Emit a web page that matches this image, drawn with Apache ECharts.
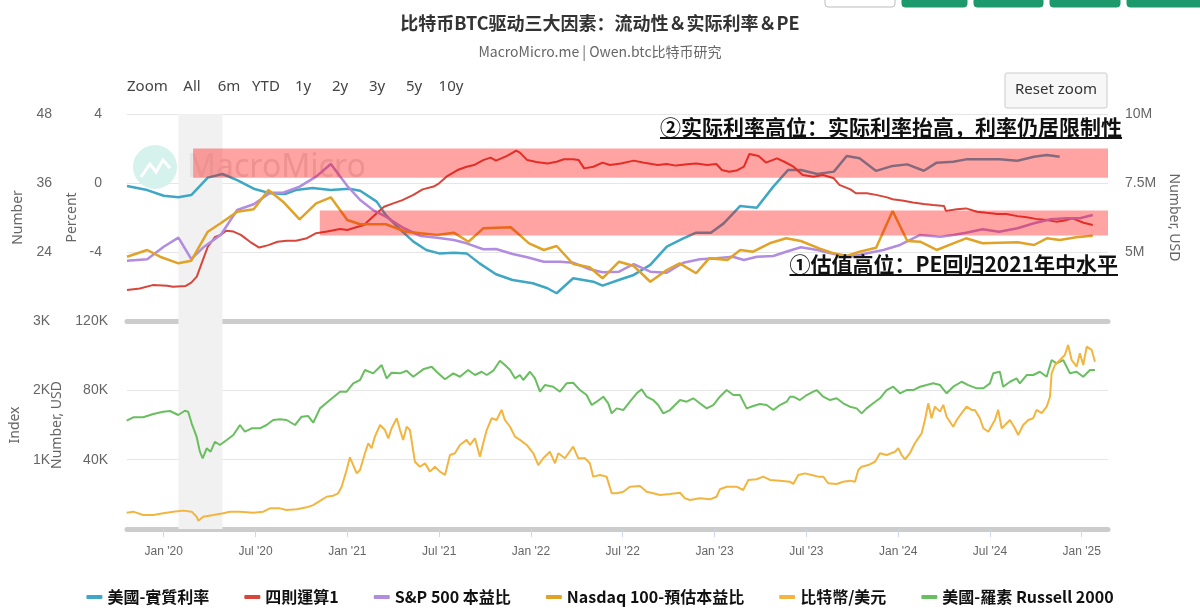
<!DOCTYPE html>
<html>
<head>
<meta charset="utf-8">
<title>比特币BTC驱动三大因素</title>
<script src="https://cdn.jsdelivr.net/npm/echarts@6/dist/echarts.min.js"></script>
<style>
html,body{margin:0;padding:0;background:#fff}
#main{width:1200px;height:616px}
</style>
</head>
<body>
<div id="main"></div>
<script>
// 时间轴用小数年 (2020.5 ≈ 2020年7月初)
// 美國-實質利率 (Percent)
var realRateT = [2019.80,2019.91,2020.00,2020.08,2020.15,2020.24,2020.32,2020.40,2020.49,2020.58,2020.66,2020.72,2020.81,2020.91,2021.01,2021.07,2021.16,2021.21,2021.29,2021.36,2021.43,2021.50,2021.58,2021.65,2021.72,2021.81,2021.90,2022.01,2022.09,2022.14,2022.23,2022.34,2022.39,2022.49,
    2022.56,2022.65,2022.74,2022.83,2022.90,2022.98,2023.05,2023.14,2023.23,2023.32,2023.40,2023.47,2023.56,2023.65,2023.72,2023.79,2023.88,2023.97,2024.05,2024.14,2024.21,2024.30,2024.37,2024.46,2024.55,2024.65,2024.74,2024.81,2024.88]
var realRateV = [-0.17,-0.41,-0.74,-0.83,-0.70,0.31,0.52,0.17,-0.33,-0.60,-0.64,-0.41,-0.29,-0.41,-0.33,-0.45,-1.08,-1.86,-2.72,-3.40,-3.88,-4.08,-4.04,-4.08,-4.66,-5.29,-5.62,-5.81,-6.10,-6.39,-5.52,-5.72,-5.95,-5.58,
    -5.33,-4.75,-3.69,-3.21,-2.88,-2.88,-2.34,-1.33,-1.43,-0.21,0.75,0.75,0.52,0.66,1.57,1.43,0.70,0.99,1.08,0.71,1.18,1.23,1.37,1.37,1.37,1.29,1.52,1.62,1.52]

// 四則運算1 (Number, USD, 单位 M)
var liqT = [2019.80,2019.87,2019.94,2020.02,2020.05,2020.12,2020.15,2020.18,2020.22,2020.24,2020.28,2020.31,2020.34,2020.38,2020.42,2020.47,2020.52,2020.57,2020.62,2020.67,2020.72,2020.78,2020.83,2020.89,2020.96,2021.00,2021.03,2021.09,2021.12,2021.16,2021.20,2021.25,2021.30,2021.36,2021.41,2021.47,2021.50,2021.54,2021.60,2021.65,2021.69,2021.74,2021.78,2021.81,2021.87,2021.92,2021.94,2021.98,2022.03,2022.09,2022.14,2022.18,2022.23,2022.26,2022.29,2022.34,2022.39,2022.43,2022.49,
    2022.56,2022.61,2022.69,2022.74,2022.79,2022.85,2022.90,2022.96,2023.01,2023.04,2023.08,2023.12,2023.16,2023.19,2023.24,2023.28,2023.34,2023.38,2023.43,2023.48,2023.54,2023.59,2023.65,2023.68,2023.74,2023.77,2023.83,2023.88,2023.94,2023.97,2024.03,2024.08,2024.14,2024.19,2024.25,2024.26,2024.32,2024.37,2024.43,2024.48,2024.54,2024.59,2024.65,2024.70,2024.75,2024.81,2024.86,2024.90,2024.95,2025.01,2025.06]
var liqV = [3.62,3.68,3.80,3.78,3.74,3.77,3.89,4.11,4.83,5.19,5.55,5.62,5.77,5.74,5.62,5.37,5.16,5.25,5.37,5.41,5.41,5.50,5.68,5.74,5.83,5.80,5.86,5.98,6.16,6.40,6.64,6.76,6.88,7.07,7.27,7.37,7.49,7.73,7.97,8.09,8.15,8.33,8.42,8.31,8.48,8.67,8.60,8.33,8.26,8.21,8.27,8.36,8.36,8.33,8.03,8.09,8.24,8.15,8.21,
    8.31,8.24,8.15,8.19,8.13,8.18,8.21,8.15,8.19,7.97,7.91,7.95,8.09,8.55,8.48,8.24,8.39,8.27,8.09,7.79,7.73,7.79,7.67,7.43,7.27,7.13,7.13,7.07,6.98,6.91,6.86,6.79,6.74,6.70,6.67,6.49,6.55,6.58,6.46,6.42,6.38,6.38,6.30,6.26,6.20,6.16,6.10,6.13,6.22,6.06,5.98]

// S&P 500 本益比 (Number)
var spT = [2019.80,2019.91,2020.00,2020.08,2020.15,2020.22,2020.31,2020.40,2020.49,2020.58,2020.65,2020.74,2020.83,2020.91,2021.00,2021.07,2021.14,2021.21,2021.30,2021.40,2021.49,2021.58,2021.65,2021.74,2021.81,2021.90,2021.98,2022.07,2022.16,2022.23,2022.32,2022.39,2022.48,
    2022.56,2022.65,2022.74,2022.83,2022.92,2023.01,2023.10,2023.16,2023.23,2023.32,2023.39,2023.47,2023.56,2023.65,2023.74,2023.83,2023.92,2024.01,2024.12,2024.23,2024.30,2024.37,2024.46,2024.55,2024.65,2024.74,2024.83,2024.92,2024.99,2025.06]
var spV = [22.49,22.73,24.92,26.49,22.78,24.92,26.96,31.30,32.30,34.31,34.31,35.36,37.10,39.30,35.48,33.04,31.30,30.14,28.30,26.78,26.49,26.09,25.51,24.47,24.52,23.65,23.08,22.31,22.31,22.14,20.99,20.47,20.57,
    21.91,20.57,20.40,22.14,22.73,22.90,23.18,22.61,23.18,23.30,24.05,24.82,24.35,23.65,23.18,23.77,24.35,25.22,26.96,26.66,26.96,27.36,27.95,27.53,28.12,28.99,29.69,29.86,29.86,30.43]

// Nasdaq 100-預估本益比 (Number)
var ndxT = [2019.80,2019.91,2019.98,2020.08,2020.15,2020.24,2020.31,2020.40,2020.49,2020.57,2020.65,2020.74,2020.83,2020.91,2021.00,2021.07,2021.12,2021.21,2021.32,2021.40,2021.49,2021.58,2021.66,2021.74,2021.89,2021.99,2022.07,2022.14,2022.23,2022.32,2022.39,2022.48,
    2022.56,2022.65,2022.74,2022.81,2022.90,2022.97,2023.07,2023.14,2023.21,2023.30,2023.39,2023.47,2023.57,2023.65,2023.72,2023.79,2023.88,2023.97,2024.05,2024.12,2024.21,2024.30,2024.37,2024.46,2024.55,2024.65,2024.74,2024.81,2024.88,2024.97,2025.06]
var ndxV = [23.18,24.35,23.18,22.03,22.49,27.53,28.99,31.01,31.43,34.78,32.75,29.69,32.47,33.51,29.57,28.82,28.82,28.82,27.53,27.25,26.96,27.36,25.79,28.12,28.30,25.51,24.35,25.04,21.91,21.34,19.43,22.31,
    21.57,18.83,20.87,22.03,20.30,22.90,22.61,24.35,24.05,25.51,26.38,25.91,24.64,23.77,23.30,24.05,24.75,31.13,25.91,25.79,24.35,25.51,26.38,25.51,25.62,25.69,25.22,26.38,26.09,26.56,26.83]

// 比特幣/美元 (单位 K)
var btcT = [2019.798,2019.834,2019.888,2019.943,2019.997,2020.052,2020.106,2020.152,2020.179,2020.188,2020.215,2020.270,2020.324,2020.361,2020.415,2020.487,2020.542,2020.578,2020.633,2020.669,2020.724,2020.778,2020.814,2020.851,2020.887,2020.923,2020.950,2020.969,2020.996,2021.014,2021.032,2021.051,2021.069,2021.096,2021.114,2021.132,2021.150,2021.178,2021.205,2021.223,2021.241,2021.269,2021.287,2021.304,2021.323,2021.341,2021.368,2021.395,2021.423,2021.450,2021.477,2021.504,2021.532,2021.559,2021.586,2021.613,
    2021.650,2021.668,2021.695,2021.722,2021.740,2021.759,2021.786,2021.813,2021.840,2021.858,2021.886,2021.913,2021.940,2021.977,2022.013,2022.040,2022.067,2022.103,2022.131,2022.149,2022.185,2022.230,2022.258,2022.294,2022.321,2022.339,2022.376,2022.412,2022.440,2022.467,2022.503,2022.539,2022.594,2022.630,2022.666,2022.703,2022.757,2022.812,2022.839,2022.866,2022.920,2022.975,2023.011,2023.029,2023.066,2023.120,2023.156,2023.184,2023.229,2023.265,2023.302,2023.356,2023.411,
    2023.429,2023.456,2023.492,2023.529,2023.565,2023.592,2023.619,2023.665,2023.701,2023.737,2023.765,2023.783,2023.801,2023.837,2023.874,2023.901,2023.937,2023.983,2024.001,2024.019,2024.037,2024.064,2024.091,2024.109,2024.128,2024.146,2024.164,2024.182,2024.200,2024.228,2024.246,2024.264,2024.300,2024.319,2024.346,2024.373,2024.400,2024.418,2024.445,2024.464,2024.491,2024.527,2024.545,2024.564,2024.582,2024.609,2024.636,2024.654,2024.681,2024.709,2024.736,2024.754,2024.782,2024.809,2024.827,2024.836,2024.854,2024.881,2024.908,2024.926,2024.945,2024.972,2024.990,2025.008,2025.027,2025.054,2025.072]
var btcV = [9.4,10.0,8.1,8.1,9.1,10.0,10.6,10.0,7.1,4.8,7.1,8.1,9.1,10.0,10.0,9.4,10.0,11.9,11.9,11.0,11.4,12.5,13.8,16.2,18.6,19.2,20.6,24.4,34.0,41.4,36.9,32.1,34.0,43.7,49.5,46.6,53.3,60.0,57.1,52.3,58.1,63.9,57.1,51.4,59.0,57.1,38.8,35.9,37.9,33.1,35.9,33.1,31.2,42.7,43.7,48.5,
    51.4,48.5,52.3,41.7,49.5,57.1,63.9,62.9,68.7,62.9,59.0,53.3,51.4,48.5,43.7,36.9,40.8,44.6,37.9,43.7,40.8,47.5,40.8,40.8,37.9,30.2,31.2,30.2,20.6,20.6,21.5,24.4,24.8,21.5,20.6,19.6,20.2,20.9,17.7,16.7,17.7,17.1,18.6,22.9,24.4,24.4,22.5,28.3,28.7,30.2,28.3,27.9,27.3,
    26.0,31.2,32.1,31.2,30.2,30.2,26.4,26.0,27.3,27.9,27.3,34.0,35.9,36.9,38.8,43.7,42.7,44.6,46.6,42.7,40.2,43.7,49.5,52.3,55.2,62.9,72.5,63.9,70.6,67.7,71.6,64.8,59.0,62.9,66.8,70.6,68.7,68.7,63.9,58.1,56.1,62.9,68.7,58.1,60.0,62.9,58.1,54.2,60.0,62.9,63.9,68.7,66.8,70.6,76.3,89.8,94.6,97.5,100.4,106.2,97.5,93.7,101.4,94.6,105.2,103.3,96.5]

// 美國-羅素 Russell 2000 (Index)
var rutT = [2019.798,2019.834,2019.888,2019.943,2019.997,2020.034,2020.079,2020.115,2020.133,2020.152,2020.179,2020.197,2020.212,2020.234,2020.255,2020.279,2020.306,2020.343,2020.379,2020.415,2020.442,2020.479,2020.524,2020.560,2020.596,2020.633,2020.669,2020.715,2020.751,2020.787,2020.814,2020.851,2020.905,2020.960,2020.996,2021.032,2021.069,2021.096,2021.141,2021.187,2021.214,2021.241,2021.287,2021.323,2021.359,2021.413,2021.459,2021.486,2021.532,2021.577,2021.613,
    2021.658,2021.695,2021.731,2021.759,2021.795,2021.831,2021.858,2021.886,2021.913,2021.940,2021.958,2021.995,2022.022,2022.049,2022.076,2022.121,2022.158,2022.194,2022.230,2022.267,2022.303,2022.331,2022.358,2022.394,2022.421,2022.440,2022.467,2022.503,2022.539,2022.576,2022.603,2022.630,2022.666,2022.693,2022.721,2022.757,2022.812,2022.848,2022.884,2022.920,2022.957,2022.993,2023.029,2023.066,2023.102,2023.138,2023.175,2023.211,2023.247,2023.284,2023.320,2023.356,2023.393,2023.411,
    2023.429,2023.465,2023.502,2023.538,2023.556,2023.592,2023.629,2023.665,2023.701,2023.737,2023.774,2023.801,2023.828,2023.864,2023.901,2023.937,2023.973,2024.010,2024.046,2024.082,2024.119,2024.155,2024.191,2024.228,2024.264,2024.300,2024.346,2024.382,2024.428,2024.464,2024.500,2024.518,2024.554,2024.572,2024.609,2024.645,2024.663,2024.700,2024.736,2024.772,2024.809,2024.836,2024.863,2024.899,2024.936,2024.972,2025.008,2025.045,2025.072]
var rutV = [1562,1611,1611,1658,1691,1702,1644,1706,1691,1524,1331,1115,1019,1164,1115,1259,1211,1283,1355,1500,1403,1452,1452,1500,1572,1582,1572,1500,1619,1629,1533,1740,1860,1980,1980,2101,2149,2293,2245,2365,2173,2254,2245,2283,2196,2303,2340,2268,2159,2245,2196,
    2293,2221,2268,2221,2283,2427,2365,2293,2173,2221,2149,2268,2173,1980,2076,2052,1980,2101,2110,2004,1932,1788,1836,1908,1813,1668,1740,1716,1836,1957,2014,1908,1860,1788,1668,1716,1860,1836,1885,1813,1740,1788,1908,2004,1932,1932,1740,1774,1803,1788,1716,1788,1836,1908,
    1908,1860,1932,1980,2004,1908,1860,1885,1813,1764,1740,1668,1740,1813,1885,2004,2052,1957,2004,2004,2052,2076,2101,2076,1957,2052,2124,2076,2029,2029,2101,2245,2268,2052,2124,2173,2101,2221,2221,2268,2196,2437,2389,2437,2245,2268,2196,2293,2293]

// 衰退区间 / 两个高位区间 (x: 小数年, y: Percent)
var recession = [2020.08, 2020.32]
var zoneStart = [2020.16, 2020.85]
var zoneTop = [2.0, -1.6]
var zoneBottom = [0.3, -3.05]
var zoneNotes = ['②实际利率高位：实际利率抬高，利率仍居限制性', '①估值高位：PE回归2021年中水平']

var xTicks = [2020,2020.5,2021,2021.5,2022,2022.5,2023,2023.5,2024,2024.5,2025]
var rangeBtns = ['All','6m','YTD','1y','2y','3y','5y','10y']
var legendNames = ['美國-實質利率','四則運算1','S&P 500 本益比','Nasdaq 100-預估本益比','比特幣/美元','美國-羅素 Russell 2000']
var colors = ['#3fa7c4','#d6463a','#b18ce0','#e0a327','#f2b540','#69bf5f']

var xMin = 2019.8, xMax = 2025.143

function zip(t, v) {
    var out = []
    for (var i = 0; i < t.length; i++) {
        out.push([t[i], v[i]])
    }
    return out
}
function tickName(v) {
    var y = Math.floor(v + 0.001)
    return (v - y > 0.25 ? 'Jul' : 'Jan') + " '" + String(y).slice(2)
}
function textWidth(txt, font) {
    var ctx = document.createElement('canvas').getContext('2d')
    ctx.font = font
    return ctx.measureText(txt).width
}
function lineSeries(idx, xi, yi, t, v, w) {
    return {name:legendNames[idx], type:'line', xAxisIndex:xi, yAxisIndex:yi, data:zip(t, v),
        showSymbol:false, itemStyle:{color:colors[idx]}, lineStyle:{width:w, color:colors[idx]}}
}

var cjk = '"Noto Sans CJK SC", "Noto Sans", sans-serif'
var tc = '"Noto Sans CJK TC", "Noto Sans", sans-serif'
var axisTxt = {color:'#666', fontSize:14, fontFamily:'"Noto Sans", sans-serif'}

// 页面上的装饰: 按钮, 水印, 注释
var graphics = []
var topBtns = [[825,70,'#fff'],[902,65,'#1d9a6c'],[974,69,'#1d9a6c'],[1050,70,'#1d9a6c'],[1127,80,'#1d9a6c']]
for (var i = 0; i < topBtns.length; i++) {
    graphics.push({type:'rect', shape:{x:topBtns[i][0], y:-8, width:topBtns[i][1], height:15, r:3},
        style:{fill:topBtns[i][2], stroke:i == 0 ? '#bbb' : topBtns[i][2]}})
}
graphics.push({type:'text', left:127, top:79, style:{text:'Zoom', fontSize:15, fill:'#444', fontFamily:'"Noto Sans", sans-serif'}})
for (var i = 0; i < rangeBtns.length; i++) {
    graphics.push({type:'text', x:192 + 37 * i, y:87,
        style:{text:rangeBtns[i], fontSize:15, fill:'#444', align:'center', verticalAlign:'middle', fontFamily:'"Noto Sans", sans-serif'}})
}
graphics.push({type:'rect', shape:{x:1005, y:73, width:102, height:35, r:2}, style:{fill:'#f7f7f7', stroke:'#ccc'}})
graphics.push({type:'text', x:1056, y:90, style:{text:'Reset zoom', fontSize:15, fill:'#333', align:'center', verticalAlign:'middle', fontFamily:'"Noto Sans", sans-serif'}})
// 水印 (在灰带之上, 线之下)
graphics.push({type:'circle', z:1.5, shape:{cx:155, cy:167, r:22}, style:{fill:'#d6f2ed'}})
graphics.push({type:'polyline', z:1.6, shape:{points:[[141,177],[150,164],[156,172],[163,160],[170,168]]},
    style:{stroke:'#fff', lineWidth:3, fill:null}})
graphics.push({type:'text', x:187, y:168, z:1.5, style:{text:'MacroMicro', fontSize:32, fill:'#e3e3e3', verticalAlign:'middle', fontFamily:'"Noto Sans", sans-serif'}})
// 两条注释 (右对齐, 带下划线)
var noteFont = 'bold 21px "Noto Sans CJK SC"'
var noteRight = [1122, 1118], noteY = [127, 264]
for (var i = 0; i < zoneNotes.length; i++) {
    var w = textWidth(zoneNotes[i], noteFont)
    graphics.push({type:'text', x:noteRight[i], y:noteY[i], z:100,
        style:{text:zoneNotes[i], font:noteFont, fill:'#111', align:'right', verticalAlign:'middle'}})
    graphics.push({type:'line', z:100, shape:{x1:noteRight[i] - w, y1:noteY[i] + 11, x2:noteRight[i], y2:noteY[i] + 11},
        style:{stroke:'#111', lineWidth:2}})
}

var zones = []
for (var i = 0; i < zoneStart.length; i++) {
    zones.push([{coord:[zoneStart[i], zoneTop[i]]}, {coord:[xMax, zoneBottom[i]]}])
}
var band = [[{xAxis:recession[0]}, {xAxis:recession[1]}]]

var myChart = echarts.init(document.getElementById('main'))
var option = {
    animation: false,
    title: [
        {text:'比特币BTC驱动三大因素：流动性＆实际利率＆PE', left:'center', top:9,
            textStyle:{fontSize:18, fontWeight:'bold', color:'#333', fontFamily:cjk}},
        {text:'MacroMicro.me | Owen.btc比特币研究', left:'center', top:40,
            textStyle:{fontSize:14, fontWeight:'normal', color:'#666', fontFamily:cjk}}
    ],
    legend: {
        data: legendNames,
        left: 'center',
        top: 584,
        icon: 'roundRect',
        itemWidth: 16,
        itemHeight: 4,
        itemGap: 35,
        textStyle: {fontSize:16, fontWeight:'bold', color:'#111', fontFamily:tc}
    },
    graphic: graphics,
    grid: [
        {left:127, right:92, top:114, height:207},
        {left:127, right:92, top:321, height:208}
    ],
    xAxis: [
        {gridIndex:0, type:'value', min:xMin, max:xMax,
            axisLine:{onZero:false, lineStyle:{color:'#cccccc', width:5}},
            axisTick:{show:false}, axisLabel:{show:false}, splitLine:{show:false}},
        {gridIndex:1, type:'value', min:xMin, max:xMax,
            axisLine:{onZero:false, lineStyle:{color:'#cccccc', width:5}},
            axisTick:{customValues:xTicks, length:8, lineStyle:{color:'#ccd6eb'}},
            axisLabel:{customValues:xTicks, formatter:tickName, color:'#666', fontSize:12, margin:17},
            splitLine:{show:false}}
    ],
    yAxis: [
        {gridIndex:0, type:'value', position:'left', offset:50, min:12, max:48, interval:12,
            name:'Number', nameLocation:'middle', nameGap:52, nameTextStyle:axisTxt,
            axisLine:{show:false}, axisTick:{show:false}, splitLine:{show:false},
            axisLabel:{color:'#666', fontSize:14, margin:25, showMinLabel:false}},
        {gridIndex:0, type:'value', position:'left', min:-8, max:4, interval:4,
            name:'Percent', nameLocation:'middle', nameGap:42, nameTextStyle:axisTxt,
            axisLine:{show:false}, axisTick:{show:false},
            splitLine:{lineStyle:{color:'#e6e6e6'}},
            axisLabel:{color:'#666', fontSize:14, margin:25, showMinLabel:false}},
        {gridIndex:0, type:'value', position:'right', min:2.5, max:10, interval:2.5,
            name:'Number, USD', nameLocation:'middle', nameGap:57, nameRotate:-90, nameTextStyle:axisTxt,
            axisLine:{show:false}, axisTick:{show:false}, splitLine:{show:false},
            axisLabel:{color:'#666', fontSize:14, margin:17, showMinLabel:false,
                formatter:function(v){ return v + 'M' }}},
        {gridIndex:1, type:'value', position:'left', min:0, max:120, interval:40,
            name:'Number, USD', nameLocation:'middle', nameGap:60, nameTextStyle:axisTxt,
            axisLine:{show:false}, axisTick:{show:false},
            splitLine:{lineStyle:{color:'#e6e6e6'}},
            axisLabel:{color:'#666', fontSize:14, margin:19, showMinLabel:false,
                formatter:function(v){ return v + 'K' }}},
        {gridIndex:1, type:'value', position:'left', offset:57, min:0, max:3000, interval:1000,
            name:'Index', nameLocation:'middle', nameGap:46, nameTextStyle:axisTxt,
            axisLine:{show:false}, axisTick:{show:false}, splitLine:{show:false},
            axisLabel:{color:'#666', fontSize:14, margin:20, showMinLabel:false,
                formatter:function(v){ return (v / 1000) + 'K' }}}
    ],
    series: [
        // 衰退灰带
        {type:'line', xAxisIndex:0, yAxisIndex:1, data:[], silent:true,
            markArea:{silent:true, itemStyle:{color:'#f1f1f1'}, data:band}},
        {type:'line', xAxisIndex:1, yAxisIndex:3, data:[], silent:true,
            markArea:{silent:true, itemStyle:{color:'#f1f1f1'}, data:band}},
        lineSeries(0, 0, 1, realRateT, realRateV, 2.5),
        lineSeries(1, 0, 2, liqT, liqV, 2),
        lineSeries(2, 0, 0, spT, spV, 2.5),
        lineSeries(3, 0, 0, ndxT, ndxV, 2.5),
        lineSeries(5, 1, 4, rutT, rutV, 2),
        lineSeries(4, 1, 3, btcT, btcV, 2),
        // 红色高位区 (盖在线上)
        {type:'line', xAxisIndex:0, yAxisIndex:1, data:[], silent:true, z:10,
            markArea:{silent:true, z:10, itemStyle:{color:'rgba(255,0,0,0.36)'}, data:zones}}
    ]
}
myChart.setOption(option)
</script>
</body>
</html>
